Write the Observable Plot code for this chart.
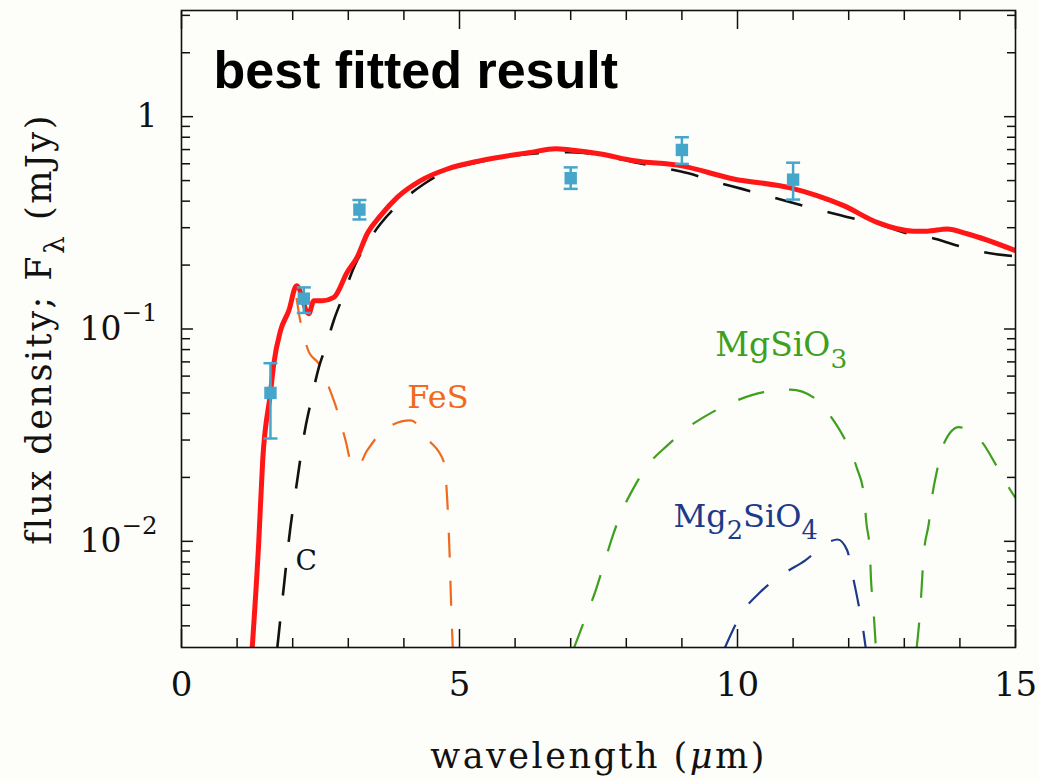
<!DOCTYPE html>
<html><head><meta charset="utf-8">
<script src="https://cdn.jsdelivr.net/npm/d3@7"></script>
<script src="https://cdn.jsdelivr.net/npm/@observablehq/plot@0.6"></script>
<style>html,body{margin:0;padding:0;background:#fdfdf9;} svg{display:block}</style>
</head><body>
<script>
// ---------- data (wavelength in micron, flux density in mJy) ----------
const totalWl   = [1.27, 1.39, 1.46, 1.60, 1.66, 1.78, 1.93, 2.07, 2.29, 2.38, 2.53, 2.74, 2.98, 3.16, 3.34, 3.58, 3.88, 4.30, 4.78, 5.38, 6.28, 6.73, 7.00, 7.54, 8.14, 8.97, 9.93, 10.95, 11.43, 11.91, 12.51, 13.17, 13.41, 13.77, 14.13, 15.0];
const totalFlux = [0.0031, 0.010, 0.024, 0.050, 0.0686, 0.098, 0.122, 0.160, 0.118, 0.136, 0.136, 0.141, 0.185, 0.218, 0.281, 0.342, 0.417, 0.500, 0.567, 0.621, 0.679, 0.707, 0.697, 0.667, 0.620, 0.588, 0.509, 0.462, 0.425, 0.381, 0.318, 0.289, 0.289, 0.296, 0.281, 0.234];

const carbonWl   = [1.72, 1.84, 1.96, 2.05, 2.23, 2.32, 2.47, 2.59, 2.74, 2.92, 3.10, 3.31, 3.58, 3.94, 4.36, 4.78, 5.40, 6.30, 7.00, 7.60, 8.14, 8.61, 9.12, 9.60, 10.08, 10.56, 11.07, 11.52, 12.03, 12.45, 13.23, 13.47, 13.95, 14.43, 15.0];
const carbonFlux = [0.0031, 0.0061, 0.0117, 0.0170, 0.0345, 0.0445, 0.066, 0.082, 0.110, 0.146, 0.195, 0.247, 0.313, 0.395, 0.482, 0.557, 0.615, 0.670, 0.680, 0.655, 0.610, 0.577, 0.541, 0.494, 0.457, 0.422, 0.388, 0.361, 0.334, 0.316, 0.275, 0.269, 0.247, 0.230, 0.220];

const fesWl   = [2.07, 2.12, 2.17, 2.29, 2.47, 2.65, 2.80, 2.95, 3.07, 3.16, 3.34, 3.67, 4.12, 4.45, 4.72, 4.78, 4.82, 4.85, 4.88];
const fesFlux = [0.140, 0.115, 0.100, 0.078, 0.0686, 0.0532, 0.0413, 0.0299, 0.0228, 0.0224, 0.0268, 0.0339, 0.0371, 0.0299, 0.0236, 0.0156, 0.0090, 0.0050, 0.0031];

// null marks the gap where the curve drops below the plotted range
const mgsio3Wl   = [7.05, 7.27, 7.45, 7.60, 7.75, 7.93, 8.14, 8.41, 8.74, 9.12, 9.55, 9.99, 10.47, 10.95, 11.40, 11.73, 11.97, 12.15, 12.27, 12.32, 12.38, 12.40, 12.44, 12.49, 12.9, 13.22, 13.29, 13.35, 13.44, 13.50, 13.59, 13.71, 13.98, 14.10, 14.40, 14.67, 14.91, 15.0];
const mgsio3Flux = [0.0031, 0.0044, 0.00588, 0.00785, 0.0105, 0.0140, 0.0180, 0.0232, 0.0283, 0.0345, 0.0406, 0.0461, 0.0504, 0.0518, 0.0470, 0.0370, 0.0288, 0.0220, 0.0168, 0.0121, 0.0091, 0.0067, 0.0050, 0.0031, null, 0.0031, 0.0049, 0.0087, 0.0121, 0.0162, 0.0216, 0.0288, 0.0345, 0.0340, 0.0293, 0.0224, 0.0174, 0.0160];

const mg2sio4Wl   = [9.76, 10.08, 10.41, 10.83, 11.22, 11.64, 11.80, 11.97, 12.09, 12.18, 12.27, 12.31];
const mg2sio4Flux = [0.0031, 0.0046, 0.00577, 0.00704, 0.00814, 0.00993, 0.0102, 0.0091, 0.00655, 0.0050, 0.00368, 0.0031];

const obsWl   = [1.6, 2.2, 3.2, 7.0, 9.0, 11.0];
const obsFlux = [0.050, 0.139, 0.365, 0.513, 0.697, 0.505];
const obsLo   = [0.0305, 0.119, 0.328, 0.457, 0.599, 0.407];
const obsHi   = [0.069, 0.157, 0.405, 0.577, 0.800, 0.607];

const labelText = ["C", "FeS", "MgSiO_3", "Mg_2SiO_4"];
const labelWl   = [2.05, 4.06, 9.60, 8.85];
const labelFlux = [0.00736, 0.0424, 0.075, 0.01167];

const xMajorTicks = [0, 5, 10, 15];
const xMinorTicks = [1, 2, 3, 4, 6, 7, 8, 9, 11, 12, 13, 14];
const yMajorTicks = [0.01, 0.1, 1];
const yTickLabels = ["10^{−2}", "10^{−1}", "1"];
const yMinorTicks = [0.004, 0.005, 0.006, 0.007, 0.008, 0.009, 0.02, 0.03, 0.04, 0.05, 0.06, 0.07, 0.08, 0.09, 0.2, 0.3, 0.4, 0.5, 0.6, 0.7, 0.8, 0.9, 2, 3];

const title = "best fitted result";
const xLabel = "wavelength ($μ$m)";
const yLabel = "flux density; F_λ (mJy)";

// ---------- tables ----------
const pairs = (xs, ys) => xs.map((x, i) => ({x, y: ys[i]}));
const total = pairs(totalWl, totalFlux);
const carbon = pairs(carbonWl, carbonFlux);
const fes = pairs(fesWl, fesFlux);
const mgsio3 = pairs(mgsio3Wl, mgsio3Flux);
const mg2sio4 = pairs(mg2sio4Wl, mg2sio4Flux);
const obs = obsWl.map((x, i) => ({x, y: obsFlux[i], lo: obsLo[i], hi: obsHi[i]}));
const labels = labelText.map((t, i) => ({t, x: labelWl[i], y: labelFlux[i]}));

// ---------- styles ----------
const RED = "#ff1616", BLACK = "#111111", ORANGE = "#f06a1e", GREEN = "#3f9f1f", BLUE = "#1d3a8a", CYAN = "#45a6cb";
const SERIF = "DejaVu Serif";
const capSymbol = {draw(ctx, size) { const w = Math.sqrt(size / Math.PI); ctx.moveTo(-w, 0); ctx.lineTo(w, 0); }};

const lineOpts = (stroke, width, dash) => ({x: "x", y: "y", stroke, strokeWidth: width, strokeDasharray: dash, clip: true, curve: "monotone-x", strokeLinecap: "butt"});

const chart = Plot.plot({
  width: 1039, height: 781,
  marginLeft: 181, marginRight: 24, marginTop: 10, marginBottom: 134,
  x: {domain: [0, 15]},
  y: {type: "log", domain: [10 ** -2.5, 10 ** 0.5]},
  style: {background: "#fdfdf9", fontFamily: SERIF, color: BLACK, overflow: "visible"},
  marks: [
    Plot.line(mgsio3, lineOpts(GREEN, 2.2, "27,25")),
    Plot.line(mg2sio4, lineOpts(BLUE, 2.2, "27,25")),
    Plot.line(fes, lineOpts(ORANGE, 2.2, "25,23")),
    Plot.line(carbon, lineOpts(BLACK, 2.6, "28,26")),
    Plot.line(total, {...lineOpts(RED, 5, null), strokeLinecap: "round", strokeLinejoin: "round"}),
    Plot.ruleX(obs, {x: "x", y1: "lo", y2: "hi", stroke: CYAN, strokeWidth: 2.5}),
    Plot.dot(obs, {x: "x", y: "lo", symbol: capSymbol, r: 7, stroke: CYAN, fill: "none", strokeWidth: 2.5}),
    Plot.dot(obs, {x: "x", y: "hi", symbol: capSymbol, r: 7, stroke: CYAN, fill: "none", strokeWidth: 2.5}),
    Plot.dot(obs, {x: "x", y: "y", symbol: "square", r: 7, fill: CYAN, stroke: "none"}),
    // component labels
    Plot.text([labels[0]], {x: "x", y: "y", text: "t", fill: BLACK, fontSize: 28, textAnchor: "start", lineAnchor: "bottom"}),
    Plot.text([labels[1]], {x: "x", y: "y", text: "t", fill: ORANGE, fontSize: 32, textAnchor: "start", lineAnchor: "bottom"}),
    Plot.text([labels[2]], {x: "x", y: "y", text: "t", fill: GREEN, fontSize: 33, textAnchor: "start", lineAnchor: "bottom"}),
    Plot.text([labels[3]], {x: "x", y: "y", text: "t", fill: BLUE, fontSize: 32, textAnchor: "start", lineAnchor: "bottom"}),
    // title inside the frame
    Plot.text([title], {text: d => d, frameAnchor: "top-left", dx: 32, dy: 77, lineAnchor: "bottom", textAnchor: "start", fontFamily: "Liberation Sans, Arial, sans-serif", fontWeight: "bold", fontSize: 52, fill: "#000"}),
    // frame and inward ticks on all four sides
    Plot.frame({stroke: BLACK, strokeWidth: 1.6}),
    Plot.axisX({anchor: "bottom", ticks: xMinorTicks, tickSize: -9, fill: "none", label: null, strokeWidth: 1.5, stroke: BLACK}),
    Plot.axisX({anchor: "bottom", ticks: xMajorTicks, tickSize: -18, fill: "none", label: null, strokeWidth: 1.5, stroke: BLACK}),
    Plot.axisX({anchor: "top", ticks: xMinorTicks, tickSize: -9, fill: "none", label: null, strokeWidth: 1.5, stroke: BLACK}),
    Plot.axisX({anchor: "top", ticks: xMajorTicks, tickSize: -18, fill: "none", label: null, strokeWidth: 1.5, stroke: BLACK}),
    Plot.axisY({anchor: "left", ticks: yMinorTicks, tickSize: -9, fill: "none", label: null, strokeWidth: 1.5, stroke: BLACK}),
    Plot.axisY({anchor: "left", ticks: yMajorTicks, tickSize: -12, fill: "none", label: null, strokeWidth: 1.5, stroke: BLACK}),
    Plot.axisY({anchor: "right", ticks: yMinorTicks, tickSize: -9, fill: "none", label: null, strokeWidth: 1.5, stroke: BLACK}),
    Plot.axisY({anchor: "right", ticks: yMajorTicks, tickSize: -12, fill: "none", label: null, strokeWidth: 1.5, stroke: BLACK}),
    // tick labels
    Plot.axisX({anchor: "bottom", ticks: xMajorTicks, tickSize: 0, tickPadding: 24, fontSize: 34, label: null, fill: BLACK}),
    Plot.text(yMajorTicks, {y: d => d, text: (d, i) => yTickLabels[i], frameAnchor: "left", dx: -24, textAnchor: "end", lineAnchor: "middle", fontSize: 33, fill: BLACK}),
    // axis titles
    Plot.text([xLabel], {text: d => d, frameAnchor: "bottom", dy: 120, textAnchor: "middle", lineAnchor: "bottom", fontSize: 35, fill: BLACK}),
    Plot.text([yLabel], {text: d => d, frameAnchor: "left", dx: -131, rotate: -90, textAnchor: "middle", lineAnchor: "bottom", fontSize: 35, fill: BLACK})
  ]
});
document.body.appendChild(chart);

// ---------- rich text: _x subscript, ^{..} superscript, $..$ italic ----------
function rich(el) {
  const s = el.textContent;
  if (!/[_^$]/.test(s)) return;
  const fs = parseFloat(getComputedStyle(el).fontSize) || 30;
  el.textContent = "";
  let shift = 0, italic = false, buf = "", i = 0;
  const add = (t, mode) => {
    const ts = document.createElementNS("http://www.w3.org/2000/svg", "tspan");
    let target = 0, size = null;
    if (mode === "sub") { target = 0.38 * fs; size = 0.8 * fs; }
    if (mode === "sup") { target = -0.55 * fs; size = 0.74 * fs; }
    const dy = target - shift;
    if (dy) ts.setAttribute("dy", dy);
    shift = target;
    if (size) ts.setAttribute("font-size", size);
    if (italic) ts.setAttribute("font-style", "italic");
    ts.textContent = t;
    el.appendChild(ts);
  };
  const flush = () => { if (buf) { add(buf, "base"); buf = ""; } };
  while (i < s.length) {
    const c = s[i];
    if (c === "$") { flush(); italic = !italic; i++; }
    else if (c === "_" || c === "^") {
      flush();
      let t;
      if (s[i + 1] === "{") { const j = s.indexOf("}", i); t = s.slice(i + 2, j); i = j + 1; }
      else { t = s[i + 1]; i += 2; }
      add(t, c === "_" ? "sub" : "sup");
    } else { buf += c; i++; }
  }
  flush();
}
chart.querySelectorAll("text").forEach(el => {
  const s = el.textContent;
  if (s === xLabel || s === yLabel) el.setAttribute("letter-spacing", "2.5");
  if (!el.querySelector("tspan")) rich(el);
});
</script>
</body></html>
